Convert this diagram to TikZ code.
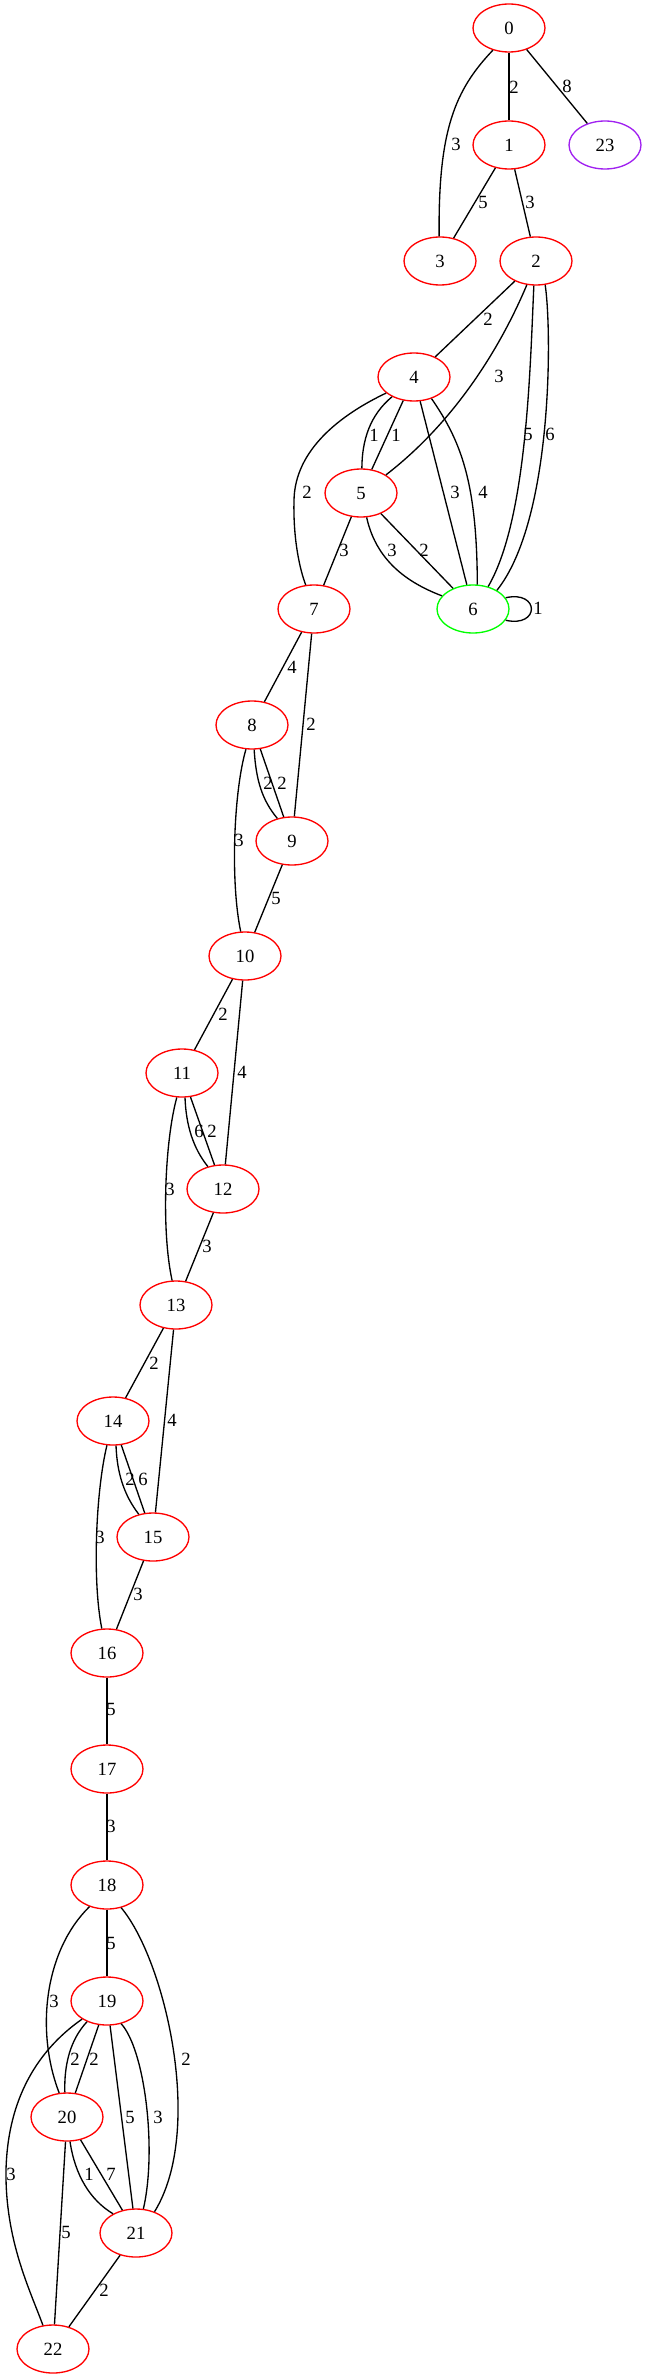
\documentclass[tikz,border=0pt]{standalone}
\usepackage{fontspec}
\setmainfont{Liberation Serif}
\usetikzlibrary{shapes.geometric}
\definecolor{xpurple}{RGB}{160,32,240}
\definecolor{xgreen}{RGB}{0,255,0}
\begin{document}
\begin{tikzpicture}[x=0.75pt,y=-0.75pt,
  vtx/.style={ellipse, draw=red, line width=1pt, minimum width=54pt, minimum height=36pt, inner sep=0pt, font=\fontsize{14}{16}\selectfont},
  wt/.style={inner sep=0pt, font=\fontsize{14}{16}\selectfont},
  ln/.style={line width=1pt}]
  \useasboundingbox (0,0) rectangle (647,2379);
  % vertices
  \node[vtx] (n0) at (509,28) {0};
  \node[vtx] (n1) at (509,145) {1};
  \node[vtx, draw=xpurple] (n23) at (605,145) {23};
  \node[vtx] (n3) at (440,261) {3};
  \node[vtx] (n2) at (536,261) {2};
  \node[vtx] (n4) at (414,377) {4};
  \node[vtx] (n5) at (361,493) {5};
  \node[vtx] (n7) at (314,609) {7};
  \node[vtx, draw=xgreen] (n6) at (473,609) {6};
  \node[vtx] (n8) at (252,725) {8};
  \node[vtx] (n9) at (292,841) {9};
  \node[vtx] (n10) at (245,956) {10};
  \node[vtx] (n11) at (182,1073) {11};
  \node[vtx] (n12) at (223,1189) {12};
  \node[vtx] (n13) at (176,1305) {13};
  \node[vtx] (n14) at (113,1421) {14};
  \node[vtx] (n15) at (153,1537) {15};
  \node[vtx] (n16) at (107,1653) {16};
  \node[vtx] (n17) at (107,1769) {17};
  \node[vtx] (n18) at (107,1885) {18};
  \node[vtx] (n19) at (107,2001) {19};
  \node[vtx] (n20) at (67,2117) {20};
  \node[vtx] (n21) at (136,2233) {21};
  \node[vtx] (n22) at (53,2349) {22};

  % edges 0 .. 7
  \draw[ln] (n0) -- (n1) (514,87) node[wt]{2};
  \draw[ln] (n0) -- (n23) (567,86) node[wt]{8};
  \draw[ln] (n0.234) .. controls (455,90) and (438,130) .. (n3.92) (456,144) node[wt]{3};
  \draw[ln] (n1) -- (n3) (483,202) node[wt]{5};
  \draw[ln] (n1) -- (n2) (530,202) node[wt]{3};
  \draw[ln] (n2) -- (n4) (488,319) node[wt]{2};
  \draw[ln] (n2.249) .. controls (512,320) and (470,410) .. (n5.36) (499,376) node[wt]{3};
  \draw[ln] (n2.265) .. controls (530,370) and (527,520) .. (n6.56) (528,434) node[wt]{5};
  \draw[ln] (n2.291) .. controls (552,330) and (553,520) .. (n6.38) (550,434) node[wt]{6};
  \draw[ln] (n4.222) .. controls (370,415) and (362,440) .. (n5.88) (374,435) node[wt]{1};
  \draw[ln] (n4) -- (n5) (396,435) node[wt]{1};
  \draw[ln] (n4) -- (n6) (455,492) node[wt]{3};
  \draw[ln] (n4.309) .. controls (460,440) and (477,480) .. (n6.80) (483,492) node[wt]{4};
  \draw[ln] (n4.210) .. controls (340,415) and (295,450) .. (294,500)
    .. controls (293,540) and (300,570) .. (n7.109) (307,492) node[wt]{2};
  \draw[ln] (n5) -- (n7) (344,550) node[wt]{3};
  \draw[ln] (n5.283) .. controls (375,555) and (400,580) .. (n6.157) (392,550) node[wt]{3};
  \draw[ln] (n5) -- (n6) (424,550) node[wt]{2};
  \draw[ln] (n6.19) .. controls (540,590) and (540,628) .. (n6.-19) (538,608) node[wt]{1};

  % edges 7 .. 16
  \draw[ln] (n7) -- (n8) (292,667) node[wt]{4};
  \draw[ln] (n7) -- (n9) (311,724) node[wt]{2};
  \draw[ln] (n8.275) .. controls (256,780) and (262,800) .. (n9.123) (268,783) node[wt]{2};
  \draw[ln] (n8) -- (n9) (282,783) node[wt]{2};
  \draw[ln] (n8.256) .. controls (234,790) and (230,880) .. (n10.100) (239,840) node[wt]{3};
  \draw[ln] (n9) -- (n10) (276,898) node[wt]{5};
  \draw[ln] (n10) -- (n11) (223,1014) node[wt]{2};
  \draw[ln] (n10) -- (n12) (242,1072) node[wt]{4};
  \draw[ln] (n11.277) .. controls (186,1125) and (193,1148) .. (n12.124) (199,1131) node[wt]{6};
  \draw[ln] (n11) -- (n12) (212,1131) node[wt]{2};
  \draw[ln] (n11.258) .. controls (165,1140) and (161,1230) .. (n13.99) (170,1189) node[wt]{3};
  \draw[ln] (n12) -- (n13) (207,1246) node[wt]{3};
  \draw[ln] (n13) -- (n14) (154,1363) node[wt]{2};
  \draw[ln] (n13) -- (n15) (172,1420) node[wt]{4};
  \draw[ln] (n14.277) .. controls (117,1473) and (124,1495) .. (n15.122) (130,1479) node[wt]{2};
  \draw[ln] (n14) -- (n15) (143,1479) node[wt]{6};
  \draw[ln] (n14.256) .. controls (96,1490) and (92,1580) .. (n16.102) (100,1537) node[wt]{3};
  \draw[ln] (n15) -- (n16) (138,1594) node[wt]{3};

  % edges 16 .. 22
  \draw[ln] (n16) -- (n17) (111,1709) node[wt]{5};
  \draw[ln] (n17) -- (n18) (111,1826) node[wt]{3};
  \draw[ln] (n18) -- (n19) (111,1943) node[wt]{5};
  \draw[ln] (n18.231) .. controls (45,1950) and (35,2030) .. (n20.108) (54,2001) node[wt]{3};
  \draw[ln] (n18.302) .. controls (165,1960) and (205,2130) .. (n21.49) (186,2059) node[wt]{2};
  \draw[ln] (n19.226) .. controls (70,2040) and (64,2065) .. (n20.95) (75,2059) node[wt]{2};
  \draw[ln] (n19) -- (n20) (94,2059) node[wt]{2};
  \draw[ln] (n19) -- (n21) (130,2117) node[wt]{5};
  \draw[ln] (n19.302) .. controls (145,2050) and (157,2150) .. (n21.73) (158,2117) node[wt]{3};
  \draw[ln] (n19.216) .. controls (45,2045) and (8,2090) .. (6,2170)
    .. controls (5,2240) and (30,2290) .. (n22.113) (11,2174) node[wt]{3};
  \draw[ln] (n20.277) .. controls (75,2175) and (90,2200) .. (n21.140) (89,2174) node[wt]{1};
  \draw[ln] (n20) -- (n21) (111,2174) node[wt]{7};
  \draw[ln] (n20) -- (n22) (66,2232) node[wt]{5};
  \draw[ln] (n21) -- (n22) (104,2290) node[wt]{2};
\end{tikzpicture}
\end{document}
